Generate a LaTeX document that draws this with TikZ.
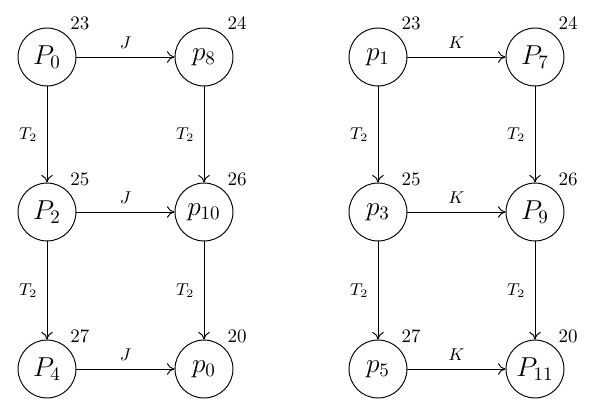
\documentclass[tikz,border=0pt]{standalone}
\usetikzlibrary{arrows.meta}
\begin{document}
\begin{tikzpicture}[x=0.5263pt,y=-0.5263pt,
  st/.style={circle,draw,line width=0.5pt,minimum size=30.5pt,inner sep=0pt,font=\Large},
  num/.style={font=\normalsize},
  ed/.style={-{To[length=4pt,width=6pt]},line width=0.5pt},
  lab/.style={font=\small}]
\useasboundingbox (0,0) rectangle (594,419);
% left diagram
\node[st] (a1) at (47,57) {$P_0$};
\node[st] (a2) at (204,57) {$p_8$};
\node[st] (a3) at (47,212) {$P_2$};
\node[st] (a4) at (204,212) {$p_{10}$};
\node[st] (a5) at (47,369) {$P_4$};
\node[st] (a6) at (204,369) {$p_0$};
\node[num] (na1) at (80,23) {23};
\node[num] (na2) at (237,23) {24};
\node[num] (na3) at (80,179) {25};
\node[num] (na4) at (237,179) {26};
\node[num] (na5) at (80,336) {27};
\node[num] (na6) at (237,336) {20};
\draw[ed] (a1) -- node[lab,above=1pt] {$J$} (a2);
\draw[ed] (a3) -- node[lab,above=1pt] {$J$} (a4);
\draw[ed] (a5) -- node[lab,above=1pt] {$J$} (a6);
\draw[ed] (a1) -- node[lab,left=1.5pt] {$T_2$} (a3);
\draw[ed] (a3) -- node[lab,left=1.5pt] {$T_2$} (a5);
\draw[ed] (a2) -- node[lab,left=1.5pt] {$T_2$} (a4);
\draw[ed] (a4) -- node[lab,left=1.5pt] {$T_2$} (a6);
% right diagram
\node[st] (b1) at (378,57) {$p_1$};
\node[st] (b2) at (535,57) {$P_7$};
\node[st] (b3) at (378,212) {$p_3$};
\node[st] (b4) at (535,212) {$P_9$};
\node[st] (b5) at (378,369) {$p_5$};
\node[st] (b6) at (535,369) {$P_{11}$};
\node[num] (nb1) at (411,23) {23};
\node[num] (nb2) at (568,23) {24};
\node[num] (nb3) at (411,179) {25};
\node[num] (nb4) at (568,179) {26};
\node[num] (nb5) at (411,336) {27};
\node[num] (nb6) at (568,336) {20};
\draw[ed] (b1) -- node[lab,above=1pt] {$K$} (b2);
\draw[ed] (b3) -- node[lab,above=1pt] {$K$} (b4);
\draw[ed] (b5) -- node[lab,above=1pt] {$K$} (b6);
\draw[ed] (b1) -- node[lab,left=1.5pt] {$T_2$} (b3);
\draw[ed] (b3) -- node[lab,left=1.5pt] {$T_2$} (b5);
\draw[ed] (b2) -- node[lab,left=1.5pt] {$T_2$} (b4);
\draw[ed] (b4) -- node[lab,left=1.5pt] {$T_2$} (b6);
\end{tikzpicture}
\end{document}
